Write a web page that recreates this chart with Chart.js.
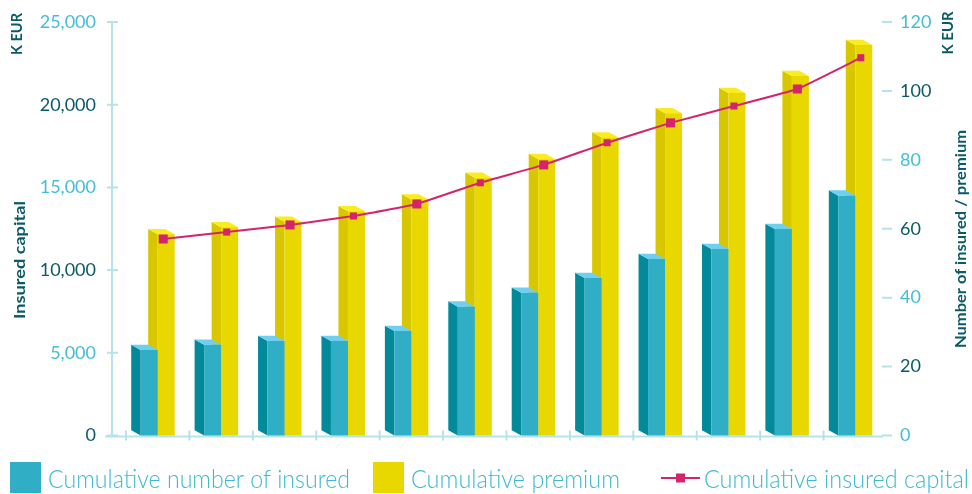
<!DOCTYPE html>
<html>
<head>
<meta charset="utf-8">
<script src="https://cdn.jsdelivr.net/npm/chart.js@4.4.1/dist/chart.umd.min.js"></script>
<style>
    html, body { margin: 0; padding: 0; background: #ffffff; }
    #wrap { width: 972px; height: 494px; position: relative; }
</style>
</head>
<body>
<div id="wrap"><canvas id="chart" width="972" height="494"></canvas></div>
<script>
// Portfolio growth over twelve periods
const periods = ['1', '2', '3', '4', '5', '6', '7', '8', '9', '10', '11', '12'];

// right axis: number of insured / premium (K EUR)
const insuredCount = [24.8, 26.3, 27.4, 27.4, 30.3, 37.4, 41.4, 45.7, 51.2, 54.1, 59.9, 69.6];
const premium = [58.4, 60.4, 62.0, 65.1, 68.5, 74.8, 80.2, 86.5, 93.5, 99.4, 104.3, 113.3];

// left axis: insured capital (K EUR)
const insuredCapital = [11880, 12300, 12730, 13270, 14000, 15280, 16360, 17700, 18900, 19920, 20950, 22840];

const capitalTicks = [0, 5000, 10000, 15000, 20000, 25000];
const countTicks = [0, 20, 40, 60, 80, 100, 120];

const AXIS = '#b5e3eb';
const LIGHT = '#45bed5';
const DARK = '#0b5a67';
const PINK = '#d4246e';

// pseudo 3D: side and top faces drawn behind the front face Chart.js paints
const DX = -9.5, DY = -5.3;
const bar3d = {
    id: 'bar3d',
    beforeDatasetDraw(chart, args) {
        const ds = chart.data.datasets[args.index];
        const ctx = chart.ctx;
        if (ds.type === 'line') {
            ctx.save();
            ctx.translate(5.5, 0);
            return;
        }
        if (!ds.faces) return;
        args.meta.data.forEach(bar => {
            const l = bar.x - bar.width / 2, r = bar.x + bar.width / 2;
            const t = bar.y, b = bar.base;
            ctx.fillStyle = ds.faces.side;
            ctx.beginPath();
            ctx.moveTo(l, t);
            ctx.lineTo(l + DX, t + DY);
            ctx.lineTo(l + DX, b + DY);
            ctx.lineTo(l, b);
            ctx.closePath();
            ctx.fill();
            ctx.fillStyle = ds.faces.top;
            ctx.beginPath();
            ctx.moveTo(l, t);
            ctx.lineTo(r, t);
            ctx.lineTo(r + DX, t + DY);
            ctx.lineTo(l + DX, t + DY);
            ctx.closePath();
            ctx.fill();
        });
    },
    afterDatasetDraw(chart, args) {
        if (chart.data.datasets[args.index].type === 'line') chart.ctx.restore();
    }
};

// axis lines and tick marks
const axes = {
    id: 'axes',
    beforeDatasetsDraw(chart) {
        const ctx = chart.ctx;
        const {top, bottom, left} = chart.chartArea;
        const yl = chart.scales.yLeft, yr = chart.scales.yRight, x = chart.scales.x;
        const ax = left - 14;
        ctx.save();
        ctx.strokeStyle = AXIS;
        ctx.lineWidth = 2;
        ctx.beginPath();
        ctx.moveTo(ax, top);
        ctx.lineTo(ax, bottom + 2);
        capitalTicks.forEach(v => {
            const y = yl.getPixelForValue(v);
            ctx.moveTo(ax - 5, y);
            ctx.lineTo(ax + 6, y);
        });
        countTicks.forEach(v => {
            const y = yr.getPixelForValue(v);
            ctx.moveTo(882, y);
            ctx.lineTo(892, y);
        });
        ctx.moveTo(ax - 7, bottom + 1);
        ctx.lineTo(883, bottom + 1);
        const slot = x.getPixelForValue(1) - x.getPixelForValue(0);
        periods.forEach((p, i) => {
            const px = x.getPixelForValue(i) - slot / 2;
            ctx.moveTo(px, bottom - 5);
            ctx.lineTo(px, bottom + 5);
        });
        ctx.stroke();
        ctx.restore();
    }
};

function fitText(ctx, text, x, y, width) {
    const w = ctx.measureText(text).width;
    ctx.save();
    ctx.translate(x, y);
    ctx.scale(width / w, 1);
    ctx.fillText(text, 0, 0);
    ctx.restore();
}

function vText(ctx, text, x, y, width) {
    ctx.save();
    ctx.translate(x, y);
    ctx.rotate(-Math.PI / 2);
    ctx.textAlign = 'left';
    ctx.textBaseline = 'middle';
    fitText(ctx, text, -width / 2, 0, width);
    ctx.restore();
}

// axis titles and the legend row
const labels = {
    id: 'labels',
    afterDraw(chart) {
        const ctx = chart.ctx;
        const [line, count, prem] = chart.data.datasets;
        ctx.save();
        ctx.fillStyle = DARK;
        ctx.font = 'bold 16px Lato';
        vText(ctx, 'K EUR', 17, 34, 42);
        vText(ctx, 'Insured capital', 20, 260, 118);
        vText(ctx, 'K EUR', 948, 33, 43);
        vText(ctx, 'Number of insured / premium', 961, 239, 218);

        ctx.font = '300 26px Lato';
        ctx.textBaseline = 'alphabetic';
        ctx.textAlign = 'left';
        ctx.fillStyle = count.backgroundColor;
        ctx.fillRect(10, 462, 31, 31);
        ctx.fillStyle = prem.backgroundColor;
        ctx.fillRect(373, 462, 31, 31);
        ctx.strokeStyle = line.borderColor;
        ctx.lineWidth = 2;
        ctx.beginPath();
        ctx.moveTo(661, 478);
        ctx.lineTo(700, 478);
        ctx.stroke();
        ctx.fillStyle = line.borderColor;
        ctx.fillRect(676, 473.5, 9, 9);

        ctx.fillStyle = '#3bbad1';
        fitText(ctx, count.label, 48, 488, 302);
        fitText(ctx, prem.label, 411, 488, 209);
        fitText(ctx, line.label, 704, 488, 265);
        ctx.restore();
    }
};

const tickFont = { family: 'Lato', size: 18 };

// fixed axis widths; label padding must not push the plot area down
const fixWidth = w => s => {
    s.width = w;
    s.paddingTop = 0;
    s.paddingBottom = 0;
};

new Chart(document.getElementById('chart'), {
    data: {
        labels: periods,
        datasets: [
            {
                type: 'line',
                label: 'Cumulative insured capital',
                data: insuredCapital,
                yAxisID: 'yLeft',
                order: 0,
                borderColor: PINK,
                borderWidth: 2,
                backgroundColor: PINK,
                pointStyle: 'rect',
                pointRadius: ctx => (ctx.dataIndex % 2 ? 5 : 6.4),
                pointBorderWidth: 0,
                tension: 0.1,
                clip: false
            },
            {
                type: 'bar',
                label: 'Cumulative number of insured',
                data: insuredCount,
                yAxisID: 'yRight',
                order: 1,
                backgroundColor: '#30aec6',
                faces: { side: '#028a9b', top: '#6ecff1' },
                borderWidth: 0,
                categoryPercentage: 0.536,
                barPercentage: 1.0,
                clip: false
            },
            {
                type: 'bar',
                label: 'Cumulative premium',
                data: premium,
                yAxisID: 'yRight',
                order: 2,
                backgroundColor: '#e8d800',
                faces: { side: '#d8c700', top: '#fbec20' },
                borderWidth: 0,
                categoryPercentage: 0.536,
                barPercentage: 1.0,
                clip: false
            }
        ]
    },
    options: {
        responsive: false,
        devicePixelRatio: 1,
        animation: false,
        layout: { padding: { top: 22, bottom: 58.5, left: 0, right: 0 } },
        plugins: {
            legend: { display: false },
            tooltip: { enabled: false }
        },
        scales: {
            x: {
                display: false
            },
            yLeft: {
                position: 'left',
                min: 0,
                max: 25000,
                afterBuildTicks: s => { s.ticks = capitalTicks.map(v => ({ value: v })); },
                afterFit: fixWidth(126),
                grid: { display: false, drawTicks: false },
                border: { display: false },
                ticks: {
                    padding: 30,
                    font: tickFont,
                    color: c => (c.index % 2 ? LIGHT : DARK),
                    callback: v => v.toLocaleString('en-US')
                }
            },
            yRight: {
                position: 'right',
                min: 0,
                max: 120,
                afterBuildTicks: s => { s.ticks = countTicks.map(v => ({ value: v })); },
                afterFit: fixWidth(85),
                grid: { display: false, drawTicks: false },
                border: { display: false },
                ticks: {
                    padding: 13,
                    font: tickFont,
                    color: c => (c.index % 2 ? DARK : LIGHT)
                }
            }
        }
    },
    plugins: [axes, bar3d, labels]
});
</script>
</body>
</html>
